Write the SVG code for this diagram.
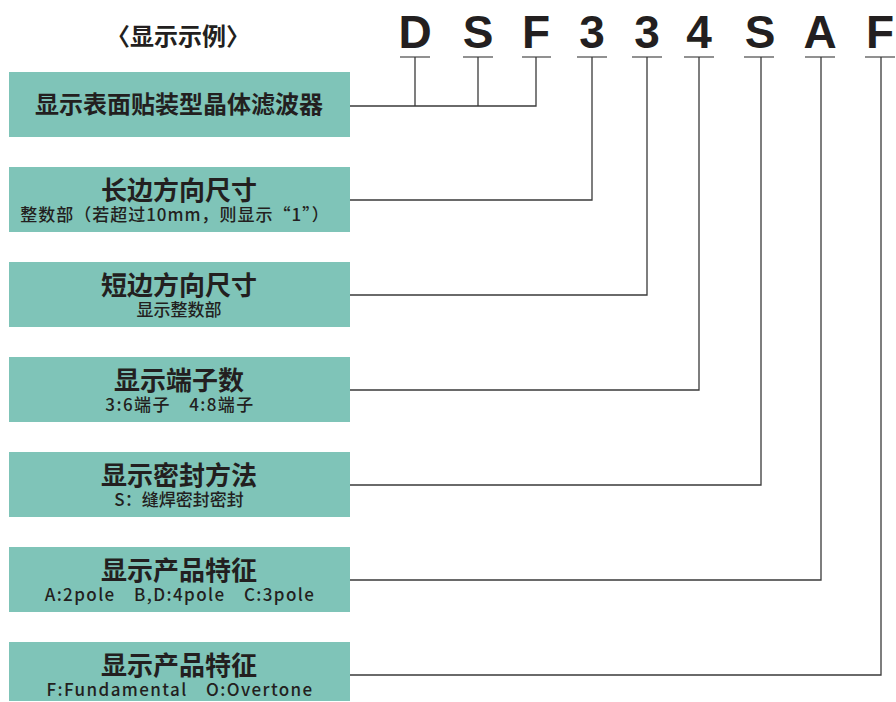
<svg xmlns="http://www.w3.org/2000/svg" width="896" height="702" viewBox="0 0 896 702">
<style>
.box{fill:#7fc4b8}
.t{font-family:"Noto Sans CJK SC","Noto Sans",sans-serif;font-weight:700;font-size:26px;fill:#231f20;text-anchor:middle}
.s{font-family:"Noto Sans CJK SC","Noto Sans",sans-serif;font-weight:500;font-size:17px;fill:#231f20;text-anchor:middle}
.sp{letter-spacing:1.4px}
.L{font-family:"Liberation Sans",Arial,sans-serif;font-weight:700;font-size:46px;fill:#231f20;text-anchor:middle}
.h{font-family:"Noto Sans CJK SC",sans-serif;font-weight:700;font-size:24px;fill:#231f20;text-anchor:middle}
.c{fill:none;stroke:#3a3a3a;stroke-width:1.3}
.u{stroke:#555;stroke-width:1.3}
</style>
<text class="h" x="178" y="45">〈显示示例〉</text>
<g id="code">
<text class="L" x="415" y="48">D</text>
<text class="L" x="478" y="48">S</text>
<text class="L" x="536" y="48">F</text>
<text class="L" x="592" y="48">3</text>
<text class="L" x="647" y="48">3</text>
<text class="L" x="699" y="48">4</text>
<text class="L" x="760" y="48">S</text>
<text class="L" x="820" y="48">A</text>
<text class="L" x="880" y="48">F</text>
<g class="u">
<line x1="400" y1="57" x2="430" y2="57"/>
<line x1="463" y1="57" x2="493" y2="57"/>
<line x1="522" y1="57" x2="551" y2="57"/>
<line x1="577" y1="57" x2="607" y2="57"/>
<line x1="632" y1="57" x2="662" y2="57"/>
<line x1="684" y1="57" x2="714" y2="57"/>
<line x1="744" y1="57" x2="774" y2="57"/>
<line x1="805" y1="57" x2="835" y2="57"/>
<line x1="865" y1="57" x2="895" y2="57"/>
</g>
</g>
<g id="n1"><rect class="box" x="9" y="72" width="341" height="65"/><text class="t" x="179" y="113" style="font-size:24px">显示表面贴装型晶体滤波器</text></g>
<g id="n2"><rect class="box" x="9" y="167" width="341" height="65"/><text class="t" x="179" y="200">长边方向尺寸</text><text class="s" x="175" y="221" style="letter-spacing:1px">整数部（若超过10mm，则显示“1”）</text></g>
<g id="n3"><rect class="box" x="9" y="262" width="341" height="65"/><text class="t" x="179" y="295">短边方向尺寸</text><text class="s" x="179" y="316">显示整数部</text></g>
<g id="n4"><rect class="box" x="9" y="357" width="341" height="65"/><text class="t" x="179" y="390">显示端子数</text><text class="s sp" x="180" y="411">3:6端子　4:8端子</text></g>
<g id="n5"><rect class="box" x="9" y="452" width="341" height="65"/><text class="t" x="179" y="485">显示密封方法</text><text class="s" x="179" y="506">S：缝焊密封密封</text></g>
<g id="n6"><rect class="box" x="9" y="547" width="341" height="65"/><text class="t" x="179" y="580">显示产品特征</text><text class="s sp" x="180" y="601">A:2pole　B,D:4pole　C:3pole</text></g>
<g id="n7"><rect class="box" x="9" y="642" width="341" height="59"/><text class="t" x="179" y="675">显示产品特征</text><text class="s sp" x="180" y="696">F:Fundamental　O:Overtone</text></g>
<g id="connectors" class="c">
<polyline points="350,106 536,106 536,57"/>
<line x1="415" y1="57" x2="415" y2="106"/>
<line x1="478" y1="57" x2="478" y2="106"/>
<polyline points="350,200 592,200 592,57"/>
<polyline points="350,295 647,295 647,57"/>
<polyline points="350,390 699,390 699,57"/>
<polyline points="350,485 761,485 761,57"/>
<polyline points="350,580 821,580 821,57"/>
<polyline points="350,675 881,675 881,57"/>
</g>
</svg>
